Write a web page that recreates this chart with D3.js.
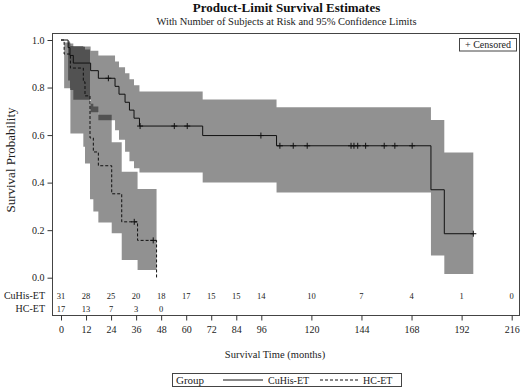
<!DOCTYPE html>
<html lang="en">
  <head>
    <meta charset="UTF-8" />
    <title>Product-Limit Survival Estimates</title>
    <script src="https://d3js.org/d3.v7.min.js"></script>
    <style>
      body { margin: 0; background: #fff; }
      svg { display: block; font-family: "Liberation Serif", "Times New Roman", serif; }
      .tick line { stroke: #333; }
      .tick text { fill: #222; font-size: 10px; font-family: "Liberation Serif", serif; }
      .band { fill: #000; fill-opacity: 0.43; stroke: none; }
      .curve { fill: none; stroke: #111; stroke-width: 1; }
    </style>
  </head>
  <body>
    <svg id="canvas" width="522" height="387"></svg>
    <script>
      // axis ticks and at-risk table
      const xTicks = [0, 12, 24, 36, 48, 60, 72, 84, 96, 120, 144, 168, 192, 216];
      const yTicks = [0, 0.2, 0.4, 0.6, 0.8, 1.0];
      const groups = ["CuHis-ET", "HC-ET"];
      const riskCuHis = [31, 28, 25, 20, 18, 17, 15, 15, 14, 10, 7, 4, 1, 0];
      const riskHC = [17, 13, 7, 3, 0];

      // CuHis-ET: step times, survival, 95% limits (last entry = end of curve)
      const cuhisTime = [0, 3.4, 4.3, 5.9, 14.2, 17.9, 25.9, 27.8, 30.7, 32.8, 35.0, 37.6, 67.9, 103.3, 177.3, 183.7, 197.6];
      const cuhisSurv = [1, 0.968, 0.935, 0.903, 0.871, 0.839, 0.805, 0.772, 0.738, 0.705, 0.671, 0.638, 0.598, 0.555, 0.370, 0.185, 0.185];
      const cuhisLower = [1, 0.83, 0.79, 0.749, 0.696, 0.662, 0.62, 0.58, 0.53, 0.49, 0.46, 0.443, 0.401, 0.358, 0.093, 0.016, 0.016];
      const cuhisUpper = [1, 0.995, 0.985, 0.973, 0.955, 0.935, 0.91, 0.885, 0.86, 0.835, 0.81, 0.783, 0.75, 0.717, 0.663, 0.527, 0.527];
      const cuhisCensor = [22.7, 37.9, 54.3, 60.5, 95.8, 104.9, 111.3, 118.0, 139.0, 140.4, 142.2, 146.0, 154.9, 160.0, 168.3, 197.6];

      // HC-ET
      const hcTime = [0, 1.5, 4.5, 10.7, 11.5, 13.9, 15.5, 17.9, 24.3, 29.1, 36.7, 45.8];
      const hcSurv = [1, 0.941, 0.882, 0.824, 0.765, 0.588, 0.529, 0.471, 0.353, 0.235, 0.157, 0];
      const hcLower = [1, 0.797, 0.607, 0.551, 0.48, 0.33, 0.278, 0.232, 0.187, 0.074, 0.032, 0.032];
      const hcUpper = [1, 0.99, 0.975, 0.972, 0.96, 0.732, 0.72, 0.686, 0.57, 0.446, 0.373, 0.373];
      const hcCensor = [35.1, 44.2];

      const svg = d3.select("#canvas");
      svg.append("rect").attr("width", 522).attr("height", 387).attr("fill", "#fff");

      const frame = { left: 52.5, right: 519.5, top: 33.5, bottom: 315.5 };
      const x = d3.scaleLinear().domain([0, 216]).range([61, 511.7]);
      const y = d3.scaleLinear().domain([0, 1]).range([277.7, 40]);

      // titles
      svg.append("text").attr("x", 286.5).attr("y", 12).attr("text-anchor", "middle")
        .attr("font-size", 13).attr("font-weight", "bold").attr("fill", "#111")
        .text("Product-Limit Survival Estimates");
      svg.append("text").attr("x", 286.5).attr("y", 25).attr("text-anchor", "middle")
        .attr("font-size", 10.5).attr("fill", "#222")
        .text("With Number of Subjects at Risk and 95% Confidence Limits");

      svg.append("clipPath").attr("id", "clip").append("rect")
        .attr("x", frame.left).attr("y", frame.top)
        .attr("width", frame.right - frame.left).attr("height", frame.bottom - frame.top);
      const plot = svg.append("g").attr("clip-path", "url(#clip)");

      function rows(time, surv, lo, hi) {
        return time.map((t, i) => ({ t, s: surv[i], lo: lo[i], hi: hi[i] }));
      }
      function survAt(time, surv, t) {
        let v = surv[0];
        time.forEach((tt, i) => { if (tt <= t) v = surv[i]; });
        return v;
      }

      const area = d3.area().curve(d3.curveStepAfter)
        .x((d) => x(d.t)).y0((d) => y(d.lo)).y1((d) => y(d.hi));
      const line = d3.line().curve(d3.curveStepAfter)
        .x((d) => x(d.t)).y((d) => y(d.s));

      const cuhis = rows(cuhisTime, cuhisSurv, cuhisLower, cuhisUpper);
      const hc = rows(hcTime, hcSurv, hcLower, hcUpper);

      // confidence bands
      plot.append("path").attr("class", "band").attr("d", area(cuhis));
      plot.append("path").attr("class", "band").attr("d", area(hc));

      // survival curves
      plot.append("path").attr("class", "curve").attr("d", line(cuhis));
      plot.append("path").attr("class", "curve").attr("stroke-dasharray", "3,2").attr("d", line(hc));

      // censored marks
      const cens = cuhisCensor.map((t) => ({ t, s: survAt(cuhisTime, cuhisSurv, t) }))
        .concat(hcCensor.map((t) => ({ t, s: survAt(hcTime, hcSurv, t) })));
      plot.selectAll(".cens").data(cens).enter().append("path")
        .attr("class", "cens").attr("stroke", "#111").attr("stroke-width", 1)
        .attr("d", (d) => {
          const cx = x(d.t), cy = y(d.s);
          return `M${cx - 3},${cy}H${cx + 3}M${cx},${cy - 3}V${cy + 3}`;
        });

      // frame
      svg.append("rect").attr("x", frame.left).attr("y", frame.top)
        .attr("width", frame.right - frame.left).attr("height", frame.bottom - frame.top)
        .attr("fill", "none").attr("stroke", "#444");

      // axes
      const yAxis = svg.append("g").attr("transform", `translate(${frame.left},0)`)
        .call(d3.axisLeft(y).tickValues(yTicks).tickFormat(d3.format(".1f")).tickSize(5).tickPadding(3));
      yAxis.select(".domain").remove();
      const xAxis = svg.append("g").attr("transform", `translate(0,${frame.bottom})`)
        .call(d3.axisBottom(x).tickValues(xTicks).tickSize(5).tickPadding(5));
      xAxis.select(".domain").remove();

      svg.append("text").attr("transform", "translate(15,160) rotate(-90)")
        .attr("text-anchor", "middle").attr("font-size", 13).attr("fill", "#222")
        .text("Survival Probability");
      svg.append("text").attr("x", 275).attr("y", 358).attr("text-anchor", "middle")
        .attr("font-size", 10.5).attr("fill", "#222").text("Survival Time (months)");

      // at-risk table
      const riskRows = [riskCuHis, riskHC];
      const riskY = [298.5, 311.5];
      riskRows.forEach((vals, r) => {
        svg.append("text").attr("x", 45).attr("y", riskY[r]).attr("text-anchor", "end")
          .attr("font-size", 10).attr("fill", "#222").text(groups[r]);
        svg.selectAll(".risk" + r).data(vals).enter().append("text")
          .attr("class", "risk" + r)
          .attr("x", (d, i) => x(xTicks[i])).attr("y", riskY[r])
          .attr("text-anchor", "middle").attr("font-size", 8.5).attr("fill", "#222")
          .text((d) => d);
      });

      // censored legend
      svg.append("rect").attr("x", 459.5).attr("y", 38.5).attr("width", 57).attr("height", 12.5)
        .attr("fill", "#fff").attr("stroke", "#444");
      svg.append("text").attr("x", 488).attr("y", 48.3).attr("text-anchor", "middle")
        .attr("font-size", 10).attr("fill", "#222").text("+ Censored");

      // group legend
      const leg = svg.append("g");
      leg.append("rect").attr("x", 172.5).attr("y", 373.5).attr("width", 229).attr("height", 13)
        .attr("fill", "#fff").attr("stroke", "#444");
      leg.append("text").attr("x", 176).attr("y", 384).attr("font-size", 11).attr("fill", "#222").text("Group");
      leg.append("line").attr("x1", 223).attr("x2", 263).attr("y1", 380).attr("y2", 380)
        .attr("stroke", "#111");
      leg.append("text").attr("x", 268).attr("y", 384).attr("font-size", 10).attr("fill", "#222").text(groups[0]);
      leg.append("line").attr("x1", 320).attr("x2", 358).attr("y1", 380).attr("y2", 380)
        .attr("stroke", "#111").attr("stroke-dasharray", "3,2");
      leg.append("text").attr("x", 363).attr("y", 384).attr("font-size", 10).attr("fill", "#222").text(groups[1]);
    </script>
  </body>
</html>
